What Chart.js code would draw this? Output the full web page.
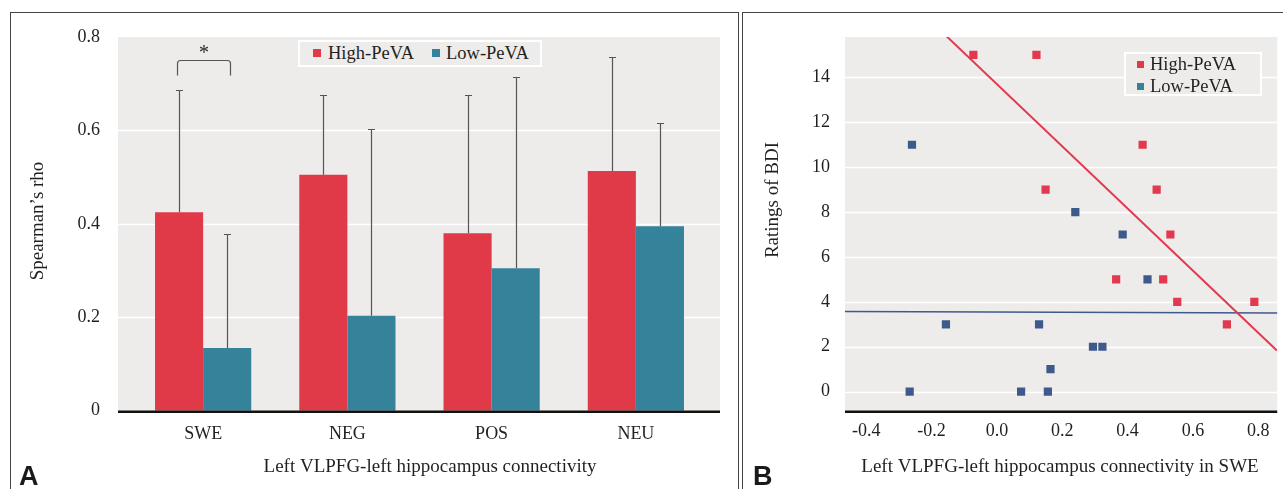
<!DOCTYPE html>
<html><head><meta charset="utf-8">
<script src="https://cdn.jsdelivr.net/npm/chart.js@4.4.0/dist/chart.umd.min.js"></script>
<style>
html,body{margin:0;padding:0;background:#fff;}
body{width:1283px;height:489px;overflow:hidden;position:relative;font-family:"Liberation Serif","Times New Roman",serif;color:#231f20;}
.frame{position:absolute;border-top:1.5px solid #444;border-left:1.5px solid #444;}
.letter{position:absolute;font-family:"Liberation Sans",Arial,sans-serif;font-weight:bold;font-size:27px;line-height:27px;color:#1a1a1a;}
.lgbox{position:absolute;box-sizing:border-box;border:2px solid #fff;background:#eeecea;}
.sq{position:absolute;width:8px;height:8px;}
.lgt{position:absolute;font-size:18.5px;white-space:nowrap;color:#231f20;}
canvas{position:absolute;}
</style>
</head><body>
<div class="frame" style="left:10px;top:12px;width:727px;height:490px;border-right:1.5px solid #444;"></div>
<div class="frame" style="left:742px;top:12px;width:560px;height:490px;"></div>
<canvas id="cA" width="727" height="476" style="left:11px;top:13px;width:727px;height:476px;"></canvas>
<canvas id="cB" width="539" height="476" style="left:744px;top:13px;width:539px;height:476px;"></canvas>
<div class="letter" style="left:19px;top:463px;">A</div>
<div class="letter" style="left:753px;top:463px;">B</div>
<div id="legends"></div>
<script>
// ---------- Data ----------
const categories = ['SWE', 'NEG', 'POS', 'NEU'];
const seriesNames = ['High-PeVA', 'Low-PeVA'];
const highRho = [0.425, 0.505, 0.380, 0.513];
const lowRho = [0.134, 0.203, 0.305, 0.395];
const highUpper = [0.687, 0.675, 0.676, 0.757];
const lowUpper = [0.378, 0.603, 0.714, 0.616];
const yTicksA = [0, 0.2, 0.4, 0.6, 0.8];
const sigLevel = 0.751;

const highX = [-0.072, 0.121, 0.149, 0.446, 0.489, 0.531, 0.365, 0.509, 0.552, 0.788, 0.704];
const highY = [15, 15, 9, 11, 9, 7, 5, 5, 4, 4, 3];
const lowX = [-0.260, 0.240, 0.385, 0.461, 0.129, -0.156, 0.294, 0.323, 0.164, -0.267, 0.074, 0.156];
const lowY = [11, 8, 7, 5, 3, 3, 2, 2, 1, 0, 0, 0];
const highFitX = [-0.154, 0.857];
const highFitY = [15.83, 1.83];
const lowFitX = [-0.465, 0.86];
const lowFitY = [3.57, 3.50];
const xTicksB = [-0.4, -0.2, 0.0, 0.2, 0.4, 0.6, 0.8];
const xTickLabelsB = ['-0.4', '-0.2', '0.0', '0.2', '0.4', '0.6', '0.8'];
const yTicksB = [0, 2, 4, 6, 8, 10, 12, 14];

// ---------- Styles ----------
const RED = '#e03a49';
const TEAL = '#34839b';
const NAVY = '#3d5a8b';
const RED_PT = '#e2394f';
const BG = '#eeecea';
const TXT = '#231f20';
const SERIF = '"Liberation Serif", "Times New Roman", serif';
const tickFont = {family: SERIF, size: 18};

const bgPlugin = {
  id: 'bgGrid',
  beforeDraw(chart, args, o) {
    const {ctx, chartArea: a, scales: {y}} = chart;
    const l = a.left - o.extL, r = a.right + o.extR;
    ctx.save();
    ctx.fillStyle = BG;
    ctx.fillRect(l, a.top, r - l, a.bottom - a.top);
    ctx.strokeStyle = '#ffffff';
    ctx.lineWidth = 1.5;
    o.grid.forEach(v => {
      const py = Math.round(y.getPixelForValue(v)) + 0.5;
      ctx.beginPath(); ctx.moveTo(l, py); ctx.lineTo(r, py); ctx.stroke();
    });
    ctx.restore();
  },
  afterDatasetsDraw(chart, args, o) {
    const {ctx, chartArea: a} = chart;
    const l = a.left - o.extL, r = a.right + o.extR;
    ctx.save();
    ctx.strokeStyle = '#111';
    ctx.lineWidth = 2.5;
    ctx.beginPath(); ctx.moveTo(l, a.bottom + 1); ctx.lineTo(r, a.bottom + 1); ctx.stroke();
    ctx.restore();
  }
};

const textPlugin = {
  id: 'texts',
  afterDraw(chart, args, o) {
    const ctx = chart.ctx;
    ctx.save();
    ctx.fillStyle = TXT;
    ctx.font = '19px ' + SERIF;
    ctx.textAlign = 'center';
    ctx.textBaseline = 'alphabetic';
    (o.items || []).forEach(it => {
      ctx.save();
      ctx.translate(it.x, it.y);
      if (it.rot) ctx.rotate(it.rot);
      ctx.fillText(it.text, 0, 0);
      ctx.restore();
    });
    ctx.restore();
  }
};

const errPlugin = {
  id: 'errBars',
  afterDatasetsDraw(chart) {
    const {ctx, scales: {y}} = chart;
    ctx.save();
    ctx.strokeStyle = '#555';
    ctx.lineWidth = 1.2;
    chart.data.datasets.forEach((ds, i) => {
      chart.getDatasetMeta(i).data.forEach((bar, j) => {
        const x = Math.round(bar.x) + 0.5;
        const yt = Math.round(y.getPixelForValue(ds.upper[j])) + 0.5;
        ctx.beginPath();
        ctx.moveTo(x, bar.y); ctx.lineTo(x, yt);
        ctx.moveTo(x - 3.5, yt); ctx.lineTo(x + 3.5, yt);
        ctx.stroke();
      });
    });
    // significance bracket on SWE
    const b0 = chart.getDatasetMeta(0).data[0], b1 = chart.getDatasetMeta(1).data[0];
    const x0 = Math.round(b0.x) - 1.5, x1 = Math.round(b1.x) + 3.5;
    const yb = Math.round(y.getPixelForValue(sigLevel)) + 0.5;
    const yl = yb + 15;
    ctx.beginPath();
    ctx.moveTo(x0, yl); ctx.lineTo(x0, yb + 3); ctx.quadraticCurveTo(x0, yb, x0 + 3, yb);
    ctx.lineTo(x1 - 3, yb); ctx.quadraticCurveTo(x1, yb, x1, yb + 3); ctx.lineTo(x1, yl);
    ctx.stroke();
    ctx.fillStyle = TXT;
    ctx.font = '20px ' + SERIF;
    ctx.textAlign = 'center';
    ctx.textBaseline = 'alphabetic';
    ctx.fillText('*', (x0 + x1) / 2, yb - 2);
    ctx.restore();
  }
};

// ---------- Chart A ----------
new Chart(document.getElementById('cA'), {
  type: 'bar',
  data: {
    labels: categories,
    datasets: [
      {label: seriesNames[0], data: highRho, upper: highUpper, backgroundColor: RED},
      {label: seriesNames[1], data: lowRho, upper: lowUpper, backgroundColor: TEAL}
    ]
  },
  options: {
    responsive: false, animation: false,
    layout: {padding: {top: 24, right: 30, left: 0, bottom: 0}},
    datasets: {bar: {categoryPercentage: 0.667, barPercentage: 1.0}},
    plugins: {
      legend: {display: false}, tooltip: {enabled: false},
      bgGrid: {extL: 13, extR: 12, grid: [0.2, 0.4, 0.6]},
      texts: {items: [
        {text: 'Spearman\u2019s rho', x: 32, y: 208, rot: -Math.PI / 2},
        {text: 'Left VLPFG-left hippocampus connectivity', x: 419, y: 458.5}
      ]}
    },
    scales: {
      x: {
        grid: {display: false, drawTicks: false}, border: {display: false},
        ticks: {font: tickFont, color: TXT, padding: 13},
        afterFit(s) { s.height = 78.3; }
      },
      y: {
        min: 0, max: 0.8,
        afterBuildTicks(s) { s.ticks = yTicksA.map(v => ({value: v})); },
        grid: {display: false, drawTicks: true, tickLength: 31}, border: {display: false},
        ticks: {font: tickFont, color: TXT, padding: 0},
        afterFit(s) { s.width = 120; }
      }
    }
  },
  plugins: [bgPlugin, errPlugin, textPlugin]
});

// ---------- Chart B ----------
const pts = (xs, ys) => xs.map((x, i) => ({x: x, y: ys[i]}));
new Chart(document.getElementById('cB'), {
  type: 'scatter',
  data: {
    datasets: [
      {label: seriesNames[0] + ' fit', type: 'line', data: pts(highFitX, highFitY), borderColor: RED_PT, borderWidth: 2, pointRadius: 0, fill: false, order: 2},
      {label: seriesNames[1] + ' fit', type: 'line', data: pts(lowFitX, lowFitY), borderColor: NAVY, borderWidth: 1.6, pointRadius: 0, fill: false, order: 2},
      {label: seriesNames[0], data: pts(highX, highY), pointStyle: 'rect', pointRadius: 5.8, pointBorderWidth: 0, backgroundColor: RED_PT, borderColor: RED_PT, order: 1},
      {label: seriesNames[1], data: pts(lowX, lowY), pointStyle: 'rect', pointRadius: 5.8, pointBorderWidth: 0, backgroundColor: NAVY, borderColor: NAVY, order: 1}
    ]
  },
  options: {
    responsive: false, animation: false,
    layout: {padding: {top: 24, right: 5, left: 0, bottom: 0}},
    plugins: {
      legend: {display: false}, tooltip: {enabled: false},
      bgGrid: {extL: 0, extR: 0, grid: yTicksB},
      texts: {items: [
        {text: 'Ratings of BDI', x: 34, y: 187, rot: -Math.PI / 2},
        {text: 'Left VLPFG-left hippocampus connectivity in SWE', x: 316, y: 458.5}
      ]}
    },
    scales: {
      x: {
        type: 'linear', min: -0.465, max: 0.858,
        afterBuildTicks(s) { s.ticks = xTicksB.map(v => ({value: v})); },
        grid: {display: false, drawTicks: false}, border: {display: false},
        ticks: {font: tickFont, color: TXT, padding: 10, callback: (v, i) => xTickLabelsB[i]},
        afterFit(s) { s.height = 78.3; }
      },
      y: {
        min: -0.85, max: 15.8,
        afterBuildTicks(s) { s.ticks = yTicksB.map(v => ({value: v})); },
        grid: {display: false, drawTicks: true, tickLength: 15}, border: {display: false},
        ticks: {font: tickFont, color: TXT, padding: 0},
        afterFit(s) { s.width = 101; }
      }
    }
  },
  plugins: [bgPlugin, textPlugin]
});

// ---------- HTML legends ----------
const lg = document.getElementById('legends');
function addEl(cls, style, text) {
  const d = document.createElement('div');
  d.className = cls; d.setAttribute('style', style);
  if (text) d.textContent = text;
  lg.appendChild(d);
}
// Legend A (horizontal)
addEl('lgbox', 'left:298px;top:40px;width:244px;height:27px;');
addEl('sq', 'left:313px;top:49px;background:' + RED + ';');
addEl('lgt', 'left:328px;top:40px;line-height:27px;', seriesNames[0]);
addEl('sq', 'left:432px;top:49px;background:' + TEAL + ';');
addEl('lgt', 'left:446px;top:40px;line-height:27px;', seriesNames[1]);
// Legend B (vertical)
addEl('lgbox', 'left:1124px;top:52px;width:138px;height:44px;');
addEl('sq', 'left:1137px;top:61px;width:7px;height:7px;background:' + RED + ';');
addEl('lgt', 'left:1150px;top:53px;line-height:22px;', seriesNames[0]);
addEl('sq', 'left:1137px;top:83px;width:7px;height:7px;background:' + TEAL + ';');
addEl('lgt', 'left:1150px;top:75px;line-height:22px;', seriesNames[1]);
</script>
</body></html>
